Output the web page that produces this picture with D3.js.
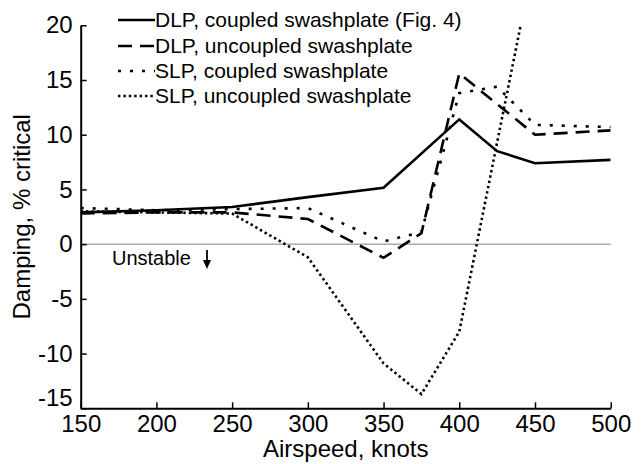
<!DOCTYPE html>
<html>
<head>
<meta charset="utf-8">
<script src="https://cdn.jsdelivr.net/npm/d3@7"></script>
<style>
  body { margin: 0; background: #fff; }
  svg text { font-family: "Liberation Sans", Arial, Helvetica, sans-serif; fill: #000; }
</style>
</head>
<body>
<svg id="chart" width="641" height="464"></svg>
<script>
    //============================================================
    // Data
    //------------------------------------------------------------

    var airspeed = [150, 200, 250, 300, 350, 375, 400, 425, 450, 500];

    // null = no point at that airspeed
    var dlpCoupled   = [2.9, 3.1, 3.4, 4.3, 5.15, null, 11.4, 8.5, 7.4, 7.7];
    var dlpUncoupled = [2.8, 2.9, 2.9, 2.3, -1.25, 1.0, 15.6, 12.8, 10.0, 10.4];
    var slpCoupled   = [3.3, 3.1, 3.2, 3.3, 0.25, 1.1, 13.8, 14.4, 10.9, 10.7];
    var slpUncoupled = [3.0, 2.9, 2.8, -1.2, -10.9, -13.7, -8.0, 9.3, 26.5, null];

    var seriesNames = [
        'DLP, coupled swashplate (Fig. 4)',
        'DLP, uncoupled swashplate',
        'SLP, coupled swashplate',
        'SLP, uncoupled swashplate'
    ];

    var xTicks = [150, 200, 250, 300, 350, 400, 450, 500];
    var yTicks = [-15, -10, -5, 0, 5, 10, 15, 20];

(function() {
    "use strict";

    //============================================================
    // Setup
    //------------------------------------------------------------

    var svg = d3.select('#chart');
    var plotLeft = 80.7, plotRight = 610.7, plotTop = 25.3, plotBottom = 408.3;

    var x = d3.scaleLinear().domain([150, 500]).range([plotLeft, plotRight]);
    var y = d3.scaleLinear().domain([-15, 20]).range([plotBottom, plotTop]);

    var styles = [
        {width: 2.6, dash: null},
        {width: 2.6, dash: '14,8'},
        {width: 2.6, dash: '3,9'},
        {width: 2.6, dash: '2.4,3'}
    ];

    var series = [dlpCoupled, dlpUncoupled, slpCoupled, slpUncoupled].map(function(vals, i) {
        return {
            name: seriesNames[i],
            style: styles[i],
            points: airspeed.map(function(k, j) { return {x: k, y: vals[j]}; })
                .filter(function(p) { return p.y !== null; })
        };
    });

    svg.append('defs').append('clipPath').attr('id', 'plotClip')
        .append('rect')
        .attr('x', plotLeft).attr('y', plotTop)
        .attr('width', plotRight - plotLeft).attr('height', plotBottom - plotTop);

    // zero line
    svg.append('line')
        .attr('x1', plotLeft).attr('x2', plotRight)
        .attr('y1', y(0)).attr('y2', y(0))
        .attr('stroke', '#aaa')
        .attr('stroke-width', 1.5);

    //============================================================
    // Axes
    //------------------------------------------------------------

    // plain hyphen for negatives, like the original figure
    var plainFormat = function(d) { return String(d); };

    var xAxis = d3.axisBottom(x).tickValues(xTicks).tickFormat(plainFormat)
        .tickSizeInner(-6).tickSizeOuter(0).tickPadding(7);
    var yAxis = d3.axisLeft(y).tickValues(yTicks).tickFormat(plainFormat)
        .tickSizeInner(-6).tickSizeOuter(0).tickPadding(8);

    var gx = svg.append('g')
        .attr('transform', 'translate(0,' + plotBottom + ')')
        .call(xAxis);
    var gy = svg.append('g')
        .attr('transform', 'translate(' + plotLeft + ',0)')
        .call(yAxis);

    [gx, gy].forEach(function(g) {
        g.select('.domain').attr('stroke', '#000').attr('stroke-width', 2);
        g.selectAll('.tick line').attr('stroke', '#000').attr('stroke-width', 1.5);
        g.selectAll('.tick text')
            .attr('font-size', 24)
            .attr('font-family', '"Liberation Sans", Arial, sans-serif')
            .attr('fill', '#000');
    });

    // lowest y label sits a bit higher so it clears the x labels
    gy.selectAll('.tick text')
        .filter(function(d) { return d === -15; })
        .attr('dy', '-0.1em');

    svg.append('text')
        .attr('x', (plotLeft + plotRight) / 2)
        .attr('y', 457)
        .attr('text-anchor', 'middle')
        .attr('font-size', 24)
        .text('Airspeed, knots');

    svg.append('text')
        .attr('transform', 'translate(30,' + ((plotTop + plotBottom) / 2) + ') rotate(-90)')
        .attr('text-anchor', 'middle')
        .attr('font-size', 24)
        .text('Damping, % critical');

    //============================================================
    // Lines
    //------------------------------------------------------------

    var line = d3.line()
        .x(function(d) { return x(d.x); })
        .y(function(d) { return y(d.y); });

    svg.append('g')
        .attr('clip-path', 'url(#plotClip)')
        .selectAll('path')
        .data(series)
        .enter().append('path')
        .attr('d', function(d) { return line(d.points); })
        .attr('fill', 'none')
        .attr('stroke', '#000')
        .attr('stroke-width', function(d) { return d.style.width; })
        .attr('stroke-dasharray', function(d) { return d.style.dash; })
        .attr('stroke-linejoin', 'miter');

    //============================================================
    // Legend
    //------------------------------------------------------------

    var legendRows = [20, 46, 71, 96];
    var legend = svg.append('g').selectAll('g')
        .data(series)
        .enter().append('g')
        .attr('transform', function(d, i) { return 'translate(118,' + legendRows[i] + ')'; });

    legend.append('line')
        .attr('x1', 0).attr('x2', 37)
        .attr('stroke', '#000')
        .attr('stroke-width', function(d) { return d.style.width; })
        .attr('stroke-dasharray', function(d) { return d.style.dash; });

    legend.append('text')
        .attr('x', 37)
        .attr('dy', '0.35em')
        .attr('font-size', 21)
        .text(function(d) { return d.name; });

    //============================================================
    // Annotation
    //------------------------------------------------------------

    svg.append('text')
        .attr('x', 112)
        .attr('y', 265)
        .attr('font-size', 20)
        .text('Unstable');

    svg.append('line')
        .attr('x1', 207).attr('x2', 207)
        .attr('y1', 250).attr('y2', 264)
        .attr('stroke', '#000').attr('stroke-width', 1.8);
    svg.append('path')
        .attr('d', 'M203,260 L207,269 L211,260 Z')
        .attr('fill', '#000')
        .attr('stroke', 'none');
})();
</script>
</body>
</html>
